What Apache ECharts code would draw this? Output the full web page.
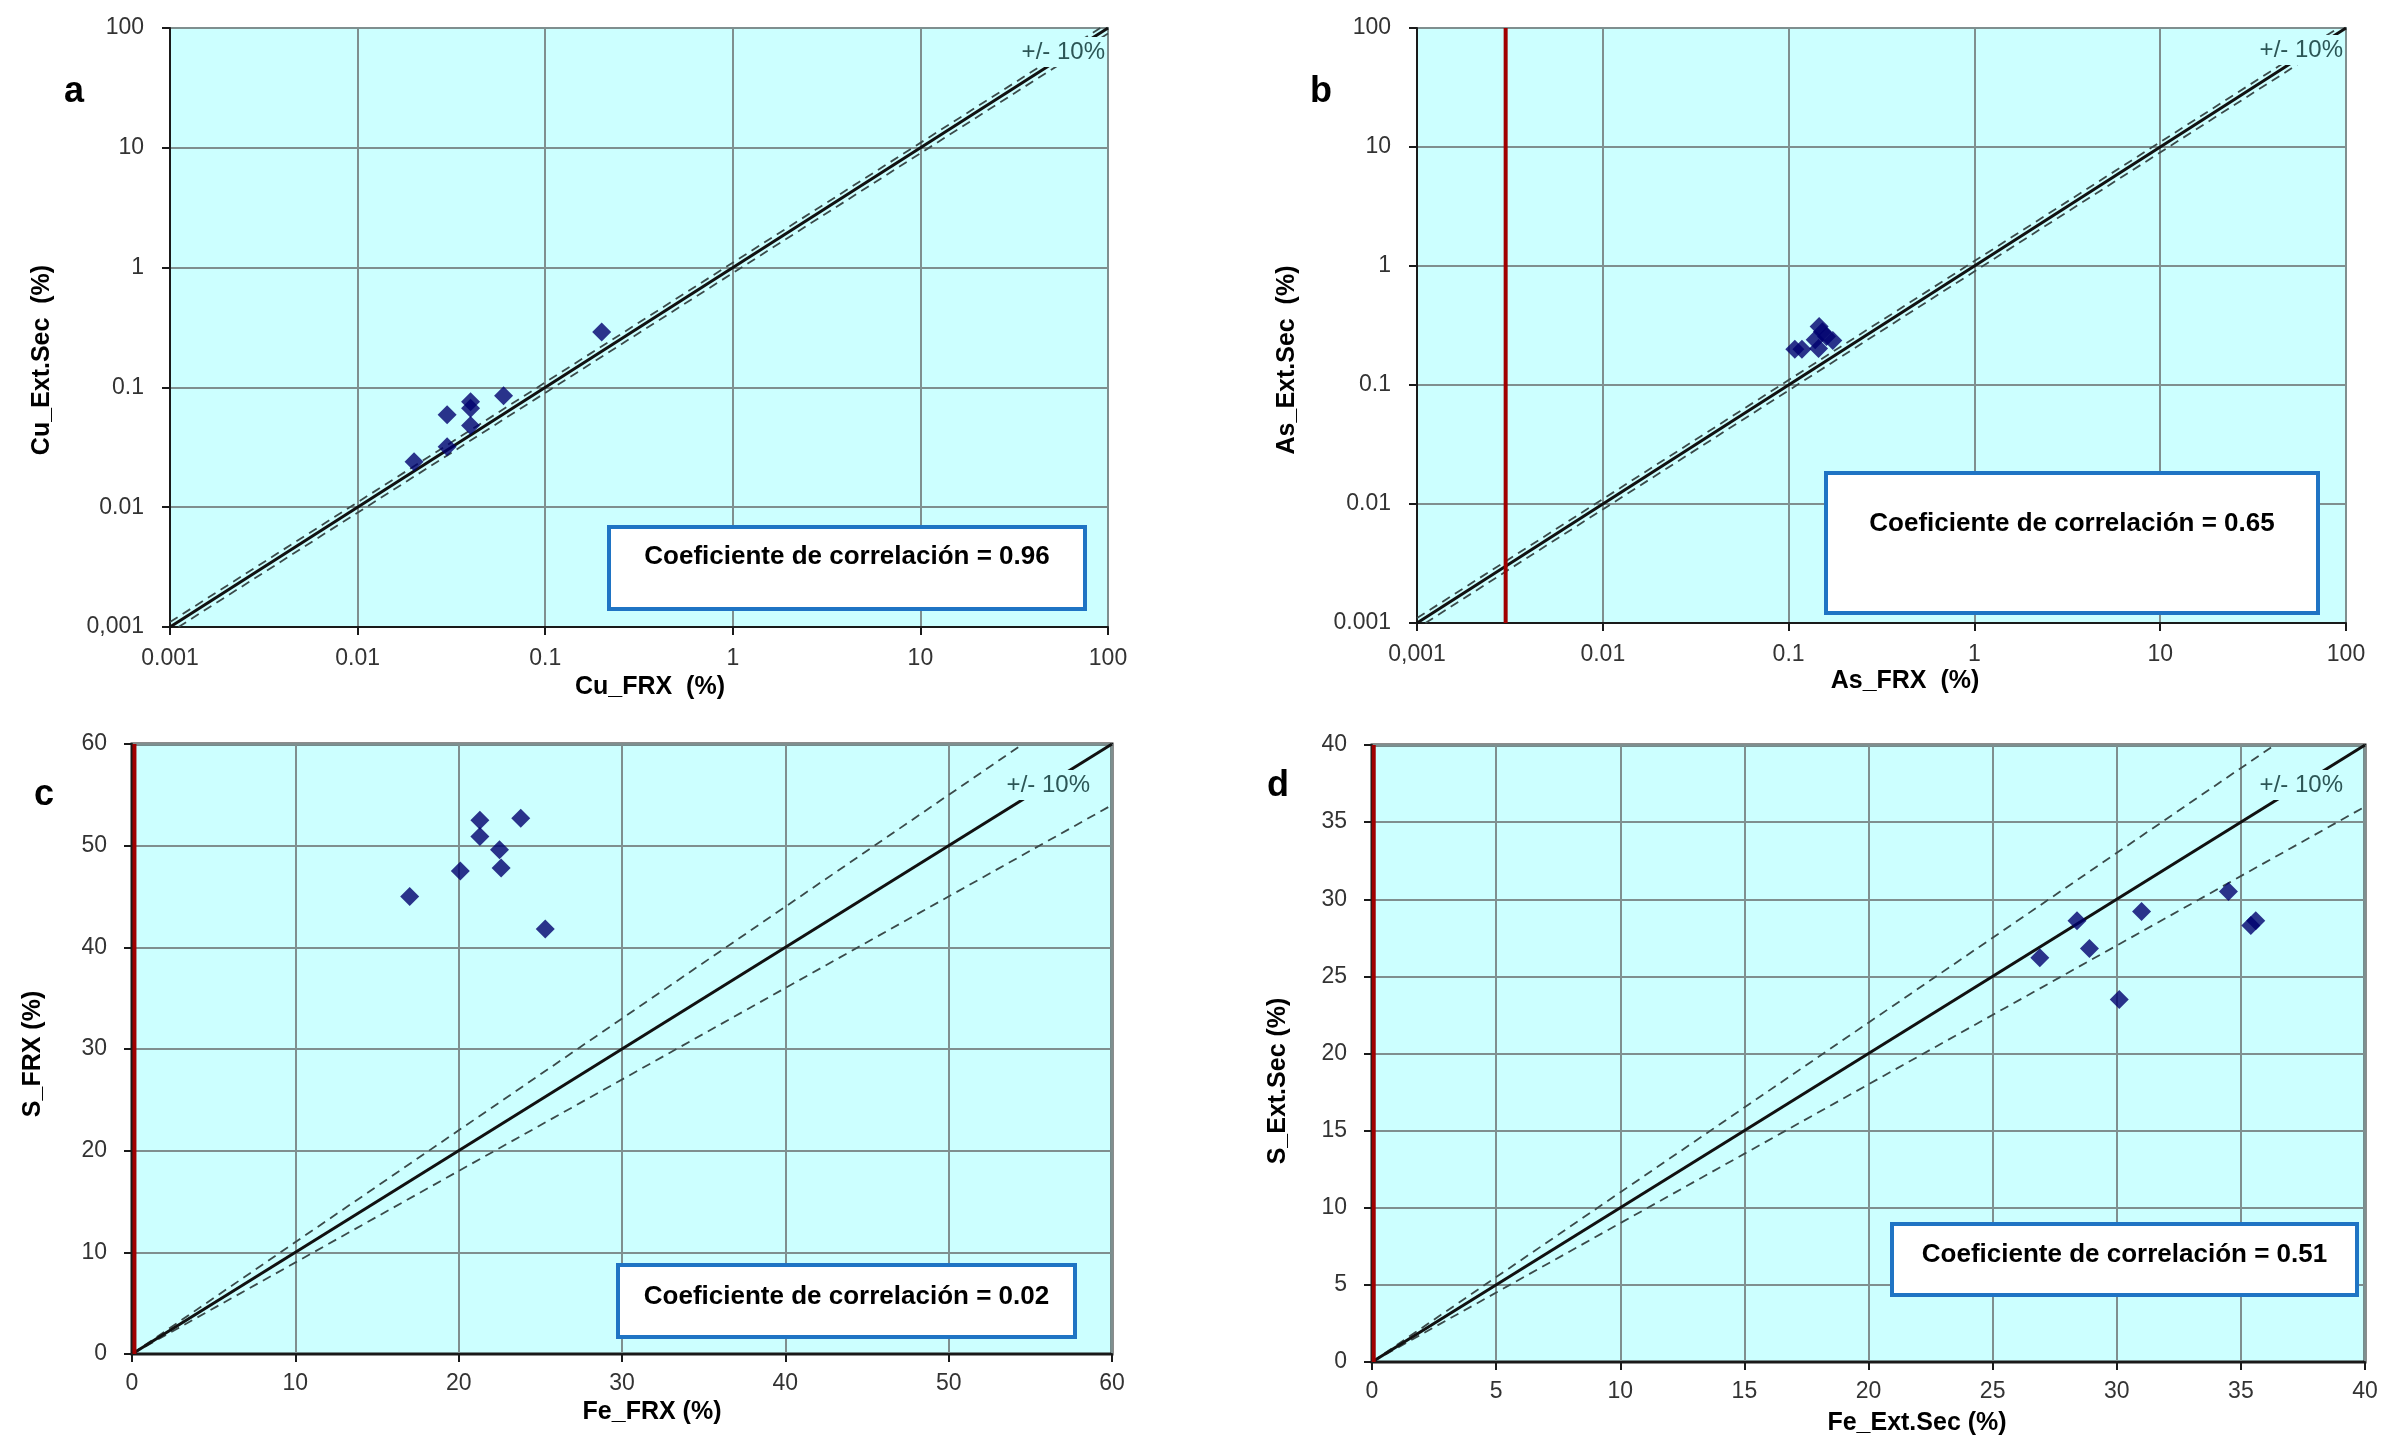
<!DOCTYPE html>
<html>
<head>
<meta charset="utf-8">
<title>Correlación FRX vs Ext.Sec</title>
<script src="https://cdn.jsdelivr.net/npm/echarts@6/dist/echarts.min.js"></script>
<style>
  html, body { margin: 0; padding: 0; background: #ffffff; }
  #chart { width: 2386px; height: 1443px; }
</style>
</head>
<body>
<div id="chart"></div>
<script>
// ---- Panel a: Cu (log-log) ----
const cuFRX    = [0.2, 0.06, 0.04, 0.04, 0.03, 0.04, 0.03, 0.02];
const cuExtSec = [0.29, 0.085, 0.076, 0.067, 0.059, 0.048, 0.032, 0.024];

// ---- Panel b: As (log-log) ----
const asFRX    = [0.108, 0.118, 0.146, 0.139, 0.16, 0.173, 0.145, 0.152];
const asExtSec = [0.2, 0.2, 0.31, 0.24, 0.255, 0.237, 0.203, 0.28];

// ---- Panel c: Fe_FRX vs S_FRX ----
const feFRX = [21.3, 23.8, 21.3, 22.5, 20.1, 22.6, 17.0, 25.3];
const sFRX  = [52.5, 52.7, 50.9, 49.6, 47.5, 47.8, 45.0, 41.8];

// ---- Panel d: Fe_Ext.Sec vs S_Ext.Sec ----
const feExtSec = [26.9, 28.4, 28.9, 30.1, 31.0, 34.5, 35.4, 35.6];
const sExtSec  = [26.2, 28.6, 26.8, 23.5, 29.2, 30.5, 28.3, 28.6];

// Correlation coefficients shown in each panel
const corrA = 0.96, corrB = 0.65, corrC = 0.02, corrD = 0.51;

// Tick labels of the log axes (one per decade, 0.001 .. 100)
const logTicksAX = ['0.001', '0.01', '0.1', '1', '10', '100'];
const logTicksAY = ['0,001', '0.01', '0.1', '1', '10', '100'];
const logTicksBX = ['0,001', '0.01', '0.1', '1', '10', '100'];
const logTicksBY = ['0.001', '0.01', '0.1', '1', '10', '100'];

// 1:1 line and +/-10 % band end points
const logParity = [[0.001, 0.001], [100, 100]];
const logUpper  = [[0.001, 0.0011], [90.91, 100]];
const logLower  = [[0.00111, 0.001], [100, 90]];
const cParity = [[0, 0], [60, 60]];
const cUpper  = [[0, 0], [54.55, 60]];
const cLower  = [[0, 0], [60, 54]];
const dParity = [[0, 0], [40, 40]];
const dUpper  = [[0, 0], [36.36, 40]];
const dLower  = [[0, 0], [40, 36]];

// Detection-limit style red verticals
const bLimit = [[0.003, 0.001], [0.003, 100]];
const cLimit = [[0.15, 0], [0.15, 60]];
const dLimit = [[0.07, 0], [0.07, 40]];

const zip = (xs, ys) => xs.map((x, i) => [x, ys[i]]);

const PLOT_BG = '#ccffff';
const FONT = 'Liberation Sans, Arial, sans-serif';

const grids = [
  { left: 170,  top: 28,  width: 938, height: 599 },
  { left: 1417, top: 28,  width: 929, height: 595 },
  { left: 132,  top: 744, width: 980, height: 610 },
  { left: 1372, top: 745, width: 993, height: 617 }
];
const heavy = [false, false, true, true];

const gridOpts = grids.map((g, i) => Object.assign({
  show: true,
  backgroundColor: PLOT_BG,
  borderColor: heavy[i] ? '#1a1a1a' : '#7d8c8c',
  borderWidth: heavy[i] ? 3 : 2,
  containLabel: false
}, g));

function logFormatter(labels) {
  return v => {
    const k = Math.round(Math.log10(v)) + 3;
    return labels[k] !== undefined ? labels[k] : '';
  };
}

const axisCommon = {
  axisLine: { show: true, onZero: false, lineStyle: { color: '#1a1a1a', width: 2 } },
  axisTick: { show: true, inside: false, length: 8, lineStyle: { color: '#1a1a1a', width: 2 } },
  splitLine: { show: true, lineStyle: { color: '#7f8f8f', width: 2 } },
  axisLabel: { color: '#333333', fontSize: 23, fontFamily: FONT }
};

function mkAxis(extra, labelExtra) {
  const a = JSON.parse(JSON.stringify(axisCommon));
  Object.assign(a, extra);
  Object.assign(a.axisLabel, labelExtra || {});
  return a;
}

const xAxes = [
  mkAxis({ type: 'log', logBase: 10, min: 0.001, max: 100, gridIndex: 0 },
         { margin: 20, formatter: logFormatter(logTicksAX) }),
  mkAxis({ type: 'log', logBase: 10, min: 0.001, max: 100, gridIndex: 1 },
         { margin: 20, formatter: logFormatter(logTicksBX) }),
  mkAxis({ type: 'value', min: 0, max: 60, interval: 10, gridIndex: 2 }, { margin: 18 }),
  mkAxis({ type: 'value', min: 0, max: 40, interval: 5, gridIndex: 3 }, { margin: 18 })
];
const yAxes = [
  mkAxis({ type: 'log', logBase: 10, min: 0.001, max: 100, gridIndex: 0 },
         { margin: 26, formatter: logFormatter(logTicksAY) }),
  mkAxis({ type: 'log', logBase: 10, min: 0.001, max: 100, gridIndex: 1 },
         { margin: 26, formatter: logFormatter(logTicksBY) }),
  mkAxis({ type: 'value', min: 0, max: 60, interval: 10, gridIndex: 2 }, { margin: 25 }),
  mkAxis({ type: 'value', min: 0, max: 40, interval: 5, gridIndex: 3 }, { margin: 25 })
];

function refLines(idx, parity, upper, lower) {
  const base = {
    type: 'line', xAxisIndex: idx, yAxisIndex: idx, symbol: 'none',
    silent: true, animation: false, z: 3
  };
  return [
    Object.assign({}, base, { data: upper, lineStyle: { color: '#3a4a4a', width: 1.8, type: [9, 6] } }),
    Object.assign({}, base, { data: lower, lineStyle: { color: '#3a4a4a', width: 1.8, type: [9, 6] } }),
    Object.assign({}, base, { data: parity, lineStyle: { color: '#111111', width: 3 } })
  ];
}
function limitLine(idx, data) {
  return {
    type: 'line', xAxisIndex: idx, yAxisIndex: idx, symbol: 'none',
    silent: true, animation: false, z: 4, data: data,
    lineStyle: { color: '#a00000', width: 4 }
  };
}
function points(idx, xs, ys) {
  return {
    type: 'scatter', xAxisIndex: idx, yAxisIndex: idx,
    symbol: 'diamond', symbolSize: 19, z: 6, animation: false,
    itemStyle: { color: '#00006e' },
    data: zip(xs, ys)
  };
}

const series = [].concat(
  refLines(0, logParity, logUpper, logLower),
  [points(0, cuFRX, cuExtSec)],
  refLines(1, logParity, logUpper, logLower),
  [limitLine(1, bLimit), points(1, asFRX, asExtSec)],
  refLines(2, cParity, cUpper, cLower),
  [limitLine(2, cLimit), points(2, feFRX, sFRX)],
  refLines(3, dParity, dUpper, dLower),
  [limitLine(3, dLimit), points(3, feExtSec, sExtSec)]
);

// ---- text overlays: panel letters, axis names, band labels, correlation boxes ----
function txt(x, y, text, opts) {
  return Object.assign({
    type: 'text', x: x, y: y, z: 100,
    style: Object.assign({
      text: text, fill: '#000000', font: 'bold 25px ' + FONT,
      textAlign: 'center', textVerticalAlign: 'middle'
    }, (opts && opts.style) || {})
  }, (opts && opts.el) || {});
}
function yName(x, y, text) {
  return txt(x, y, text, { el: { rotation: Math.PI / 2 } });
}
function bandLabel(xRight, y) {
  return txt(xRight, y, '+/- 10%', {
    style: {
      font: '24px ' + FONT, fill: '#2c5656', textAlign: 'right',
      backgroundColor: PLOT_BG, padding: [3, 2, 3, 6]
    }
  });
}
function corrBox(x, y, w, h, textY, r) {
  return [
    {
      type: 'rect', z: 90,
      shape: { x: x, y: y, width: w, height: h },
      style: { fill: '#ffffff', stroke: '#1f74c4', lineWidth: 4 }
    },
    txt(x + w / 2, textY, 'Coeficiente de correlación = ' + r.toFixed(2),
        { style: { font: 'bold 26px ' + FONT } })
  ];
}

const graphics = [].concat(
  [
    txt(74, 92, 'a', { style: { font: 'bold 36px ' + FONT } }),
    txt(1321, 92, 'b', { style: { font: 'bold 36px ' + FONT } }),
    txt(44, 795, 'c', { style: { font: 'bold 36px ' + FONT } }),
    txt(1278, 786, 'd', { style: { font: 'bold 36px ' + FONT } }),

    yName(42, 360, 'Cu_Ext.Sec  (%)'),
    yName(1287, 360, 'As_Ext.Sec  (%)'),
    yName(33, 1054, 'S_FRX (%)'),
    yName(1278, 1081, 'S_Ext.Sec (%)'),

    txt(650, 687, 'Cu_FRX  (%)'),
    txt(1905, 681, 'As_FRX  (%)'),
    txt(652, 1412, 'Fe_FRX (%)'),
    txt(1917, 1423, 'Fe_Ext.Sec (%)'),

    bandLabel(1107, 52),
    bandLabel(2345, 50),
    bandLabel(1092, 785),
    bandLabel(2345, 785)
  ],
  corrBox(609, 527, 476, 82, 557, corrA),
  corrBox(1826, 473, 492, 140, 524, corrB),
  corrBox(618, 1265, 457, 72, 1297, corrC),
  corrBox(1892, 1224, 465, 71, 1255, corrD)
);

const chart = echarts.init(document.getElementById('chart'), null, { renderer: 'canvas' });
chart.setOption({
  backgroundColor: '#ffffff',
  animation: false,
  grid: gridOpts,
  xAxis: xAxes,
  yAxis: yAxes,
  series: series,
  graphic: { elements: graphics }
});
</script>
</body>
</html>
